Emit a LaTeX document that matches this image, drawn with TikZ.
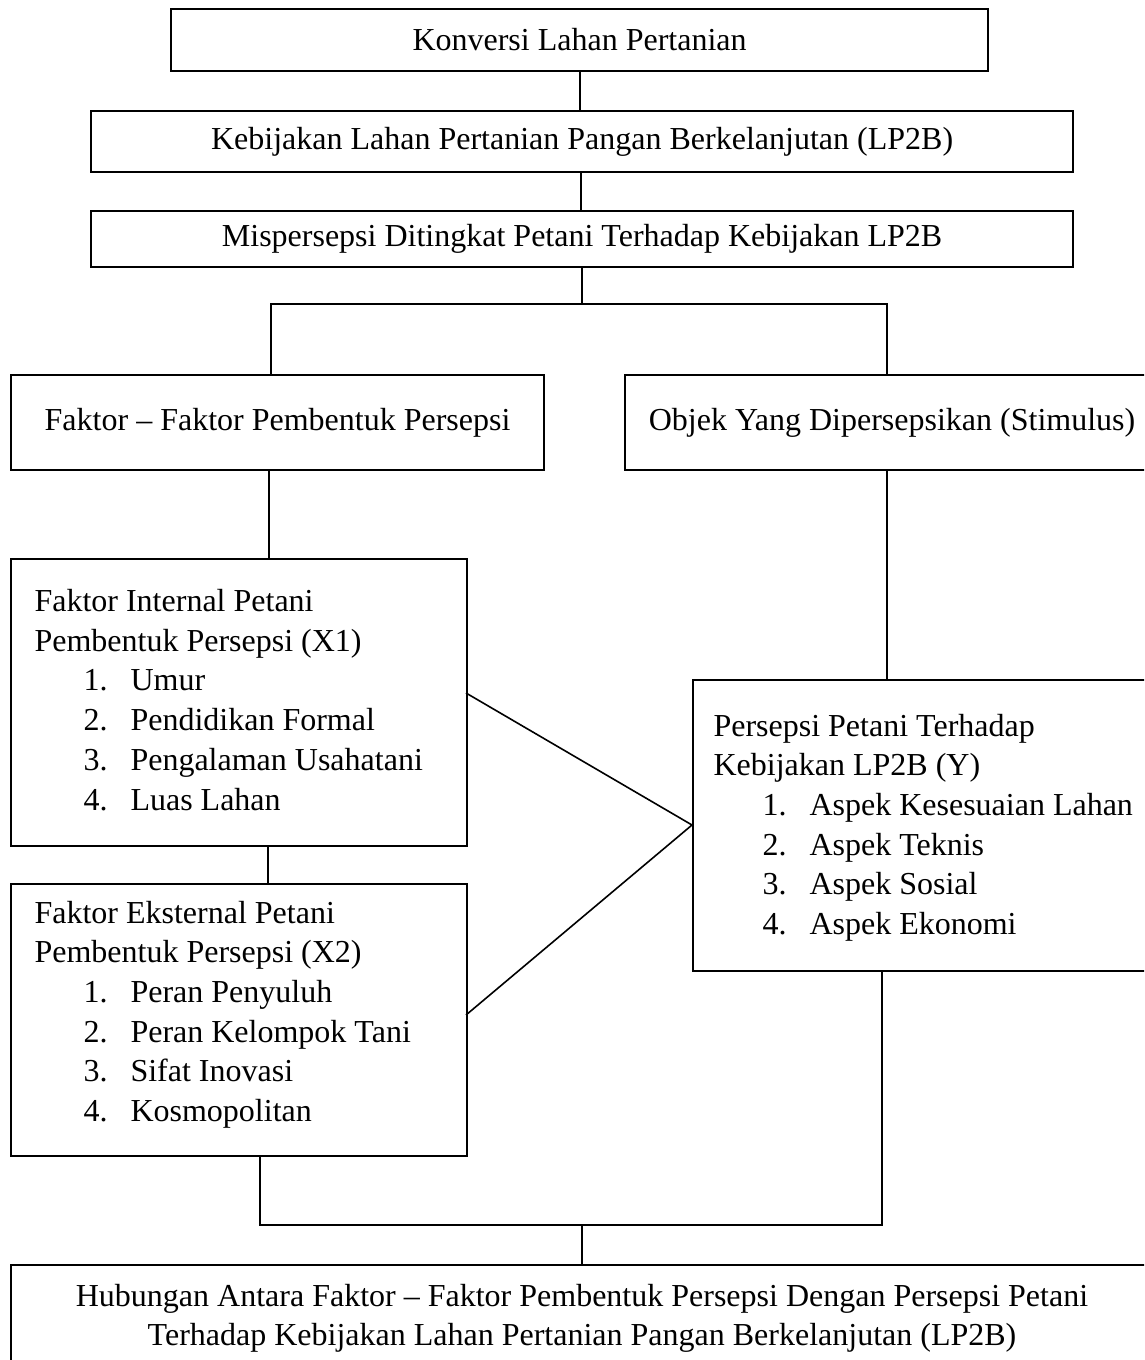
\documentclass[tikz,border=0pt]{standalone}
\usepackage{fontspec}
\setmainfont{Liberation Serif}
\newlength\pxu
\setlength\pxu{0.375pt}
\newcommand\itm[2]{\hspace*{49\pxu}\makebox[47\pxu][l]{#1}#2}
\newcommand\bx[6]{\node[box, minimum width={(#4-#2)*\pxu}, minimum height={(#5-#3)*\pxu}] (#1) at (#2,#3) {#6};}
\tikzset{
  box/.style={draw, line width=0.8pt, inner sep=0pt, anchor=north west, align=center,
    font=\fontsize{12pt}{14.89pt}\selectfont},
  txt/.style={inner sep=0pt, font=\fontsize{12pt}{14.89pt}\selectfont},
  conn/.style={line width=0.6pt}
}
\begin{document}
\begin{tikzpicture}[x=0.375pt, y=-0.375pt]
\useasboundingbox (0,0) rectangle (1144,1360);
\clip (0,0) rectangle (1144,1360);
% boxes
\bx{b1}{170}{8}{987}{70}{Konversi Lahan Pertanian}
\bx{b2}{90}{110}{1072}{171}{Kebijakan Lahan Pertanian Pangan Berkelanjutan (LP2B)}
\bx{b3}{90}{210}{1072}{266}{Mispersepsi Ditingkat Petani Terhadap Kebijakan LP2B}
\bx{fak}{10}{374}{543}{469}{Faktor – Faktor Pembentuk Persepsi}
\bx{obj}{624}{374}{1158}{469}{Objek Yang Dipersepsikan (Stimulus)}
\bx{x1}{10}{558}{466}{845}{}
\bx{x2}{10}{883}{466}{1155}{}
\bx{y}{692}{679}{1170}{970}{}
\bx{hub}{10}{1264}{1154}{1400}{}
% texts
\node[txt, anchor=base west] (x1t) at (34,611.5) {\begin{tabular}[t]{@{}l@{}}
Faktor Internal Petani\\
Pembentuk Persepsi (X1)\\
\itm{1.}{Umur}\\
\itm{2.}{Pendidikan Formal}\\
\itm{3.}{Pengalaman Usahatani}\\
\itm{4.}{Luas Lahan}
\end{tabular}};
\node[txt, anchor=base west] (x2t) at (34,923) {\begin{tabular}[t]{@{}l@{}}
Faktor Eksternal Petani\\
Pembentuk Persepsi (X2)\\
\itm{1.}{Peran Penyuluh}\\
\itm{2.}{Peran Kelompok Tani}\\
\itm{3.}{Sifat Inovasi}\\
\itm{4.}{Kosmopolitan}
\end{tabular}};
\node[txt, anchor=base west] (yt) at (713,736) {\begin{tabular}[t]{@{}l@{}}
Persepsi Petani Terhadap\\
Kebijakan LP2B (Y)\\
\itm{1.}{Aspek Kesesuaian Lahan}\\
\itm{2.}{Aspek Teknis}\\
\itm{3.}{Aspek Sosial}\\
\itm{4.}{Aspek Ekonomi}
\end{tabular}};
\node[txt, anchor=base] (hubt) at (582,1306) {\begin{tabular}[t]{@{}c@{}}
Hubungan Antara Faktor – Faktor Pembentuk Persepsi Dengan Persepsi Petani\\
Terhadap Kebijakan Lahan Pertanian Pangan Berkelanjutan (LP2B)
\end{tabular}};
% junction coordinates
\coordinate (s1) at (582,304);
\coordinate (jL) at (271,304);
\coordinate (jR) at (887,304);
\coordinate (c1) at (269,500);
\coordinate (c2) at (268,860);
\coordinate (a1) at (466,693);
\coordinate (a2) at (466,1015);
\coordinate (m) at (692,825);
\coordinate (bL) at (260,1225);
\coordinate (bR) at (882,1225);
\coordinate (bM) at (582,1225);
% connectors
\draw[conn] (b1.south -| 580,0) -- (b2.north -| 580,0);
\draw[conn] (b2.south -| 581,0) -- (b3.north -| 581,0);
\draw[conn] (b3.south -| s1) -- (s1);
\draw[conn] (jL |- fak.north) -- (jL) -- (jR) -- (jR |- obj.north);
\draw[conn] (c1 |- fak.south) -- (c1 |- x1.north);
\draw[conn] (jR |- obj.south) -- (jR |- y.north);
\draw[conn] (c2 |- x1.south) -- (c2 |- x2.north);
\draw[conn] (a1) -- (m);
\draw[conn] (a2) -- (m);
\draw[conn] (bL |- x2.south) -- (bL) -- (bR) -- (bR |- y.south);
\draw[conn] (bM) -- (bM |- hub.north);
\end{tikzpicture}
\end{document}
